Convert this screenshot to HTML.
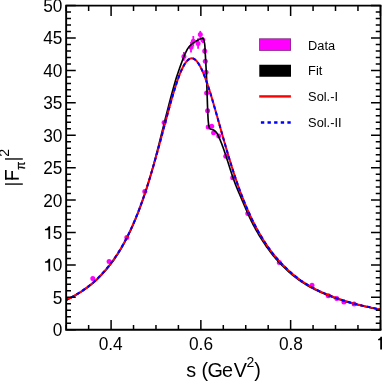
<!DOCTYPE html><html><head><meta charset="utf-8"><style>html,body{margin:0;padding:0;background:#fff;width:382px;height:382px;overflow:hidden}body{position:relative;font-family:"Liberation Sans",sans-serif}</style></head><body><svg width="382" height="382" viewBox="0 0 382 382" style="position:absolute;left:0;top:0;will-change:transform;opacity:0.9999">
<rect x="0" y="0" width="382" height="382" fill="#fff"/>
<g><circle cx="92.8" cy="278.5" r="2.5" fill="#ff00ff"/><circle cx="109.1" cy="261.4" r="2.5" fill="#ff00ff"/><circle cx="126.8" cy="237.4" r="2.5" fill="#ff00ff"/><circle cx="144.8" cy="191.6" r="2.5" fill="#ff00ff"/><circle cx="164.1" cy="122.5" r="2.5" fill="#ff00ff"/><line x1="183.9" y1="52.0" x2="183.9" y2="60.8" stroke="#ff00ff" stroke-width="1.8"/><circle cx="183.9" cy="56.4" r="2.5" fill="#ff00ff"/><line x1="191.0" y1="42.0" x2="191.0" y2="52.599999999999994" stroke="#ff00ff" stroke-width="1.8"/><circle cx="191.0" cy="47.3" r="2.5" fill="#ff00ff"/><line x1="193.3" y1="36.0" x2="193.3" y2="46.599999999999994" stroke="#ff00ff" stroke-width="1.8"/><circle cx="193.3" cy="41.3" r="2.5" fill="#ff00ff"/><line x1="198.1" y1="38.2" x2="198.1" y2="48.8" stroke="#ff00ff" stroke-width="1.8"/><circle cx="198.1" cy="43.5" r="2.5" fill="#ff00ff"/><line x1="200.3" y1="30.900000000000002" x2="200.3" y2="38.300000000000004" stroke="#ff00ff" stroke-width="1.8"/><circle cx="200.3" cy="34.6" r="2.5" fill="#ff00ff"/><line x1="202.9" y1="37.1" x2="202.9" y2="43.1" stroke="#ff00ff" stroke-width="1.8"/><circle cx="202.9" cy="40.1" r="2.5" fill="#ff00ff"/><line x1="204.7" y1="48" x2="204.7" y2="54" stroke="#ff00ff" stroke-width="1.8"/><circle cx="204.7" cy="51" r="2.5" fill="#ff00ff"/><line x1="205.3" y1="59.3" x2="205.3" y2="63.3" stroke="#ff00ff" stroke-width="1.8"/><circle cx="205.3" cy="61.3" r="2.5" fill="#ff00ff"/><line x1="206.1" y1="70.3" x2="206.1" y2="74.3" stroke="#ff00ff" stroke-width="1.8"/><circle cx="206.1" cy="72.3" r="2.5" fill="#ff00ff"/><line x1="206.6" y1="91.1" x2="206.6" y2="95.1" stroke="#ff00ff" stroke-width="1.8"/><circle cx="206.6" cy="93.1" r="2.5" fill="#ff00ff"/><line x1="207.6" y1="108.7" x2="207.6" y2="112.7" stroke="#ff00ff" stroke-width="1.8"/><circle cx="207.6" cy="110.7" r="2.5" fill="#ff00ff"/><line x1="208.2" y1="125.5" x2="208.2" y2="128.5" stroke="#ff00ff" stroke-width="1.8"/><circle cx="208.2" cy="127" r="2.5" fill="#ff00ff"/><line x1="211.7" y1="124.4" x2="211.7" y2="128.0" stroke="#ff00ff" stroke-width="1.8"/><circle cx="211.7" cy="126.2" r="2.5" fill="#ff00ff"/><line x1="213.6" y1="130.60000000000002" x2="213.6" y2="135.0" stroke="#ff00ff" stroke-width="1.8"/><circle cx="213.6" cy="132.8" r="2.5" fill="#ff00ff"/><line x1="218.7" y1="134.70000000000002" x2="218.7" y2="137.1" stroke="#ff00ff" stroke-width="1.8"/><circle cx="218.7" cy="135.9" r="2.5" fill="#ff00ff"/><circle cx="225.8" cy="156.2" r="2.5" fill="#ff00ff"/><circle cx="232.7" cy="177.7" r="2.5" fill="#ff00ff"/><circle cx="247.8" cy="213.5" r="2.5" fill="#ff00ff"/><circle cx="279.3" cy="262.4" r="2.5" fill="#ff00ff"/><circle cx="312" cy="285.2" r="2.5" fill="#ff00ff"/><circle cx="328.3" cy="295.8" r="2.5" fill="#ff00ff"/><circle cx="336.8" cy="298.6" r="2.5" fill="#ff00ff"/><circle cx="343.9" cy="302.0" r="2.5" fill="#ff00ff"/><circle cx="354.1" cy="303.9" r="2.5" fill="#ff00ff"/></g>
<path d="M66.30,300.14 L67.36,299.63 L68.41,299.11 L69.47,298.58 L70.52,298.04 L71.58,297.49 L72.63,296.92 L73.69,296.34 L74.74,295.75 L75.80,295.15 L76.85,294.53 L77.91,293.90 L78.97,293.25 L80.02,292.59 L81.08,291.92 L82.13,291.23 L83.19,290.52 L84.24,289.79 L85.30,289.05 L86.35,288.29 L87.41,287.52 L88.46,286.72 L89.52,285.91 L90.58,285.07 L91.63,284.22 L92.69,283.34 L93.74,282.44 L94.80,281.52 L95.85,280.58 L96.91,279.59 L97.96,278.56 L99.02,277.51 L100.07,276.43 L101.13,275.33 L102.19,274.20 L103.24,273.04 L104.30,271.86 L105.35,270.67 L106.41,269.45 L107.46,268.19 L108.52,266.91 L109.57,265.59 L110.63,264.23 L111.68,262.84 L112.74,261.41 L113.80,259.95 L114.85,258.44 L115.91,256.90 L116.96,255.31 L118.02,253.68 L119.07,252.00 L120.13,250.28 L121.18,248.52 L122.24,246.71 L123.29,244.84 L124.35,242.93 L125.41,240.96 L126.46,238.94 L127.52,236.87 L128.57,234.74 L129.63,232.56 L130.68,230.31 L131.74,228.00 L132.77,225.64 L133.14,224.80 L133.51,223.95 L133.87,223.10 L134.23,222.26 L134.59,221.41 L134.95,220.56 L135.30,219.71 L135.65,218.86 L136.00,218.01 L136.35,217.15 L136.69,216.30 L137.04,215.45 L137.37,214.59 L137.71,213.74 L138.05,212.88 L138.38,212.03 L138.71,211.17 L139.04,210.31 L139.36,209.46 L139.69,208.60 L140.01,207.74 L140.32,206.88 L140.64,206.03 L140.95,205.17 L141.26,204.31 L141.57,203.45 L141.87,202.60 L142.18,201.74 L142.48,200.88 L142.78,200.02 L143.08,199.16 L143.37,198.29 L143.67,197.43 L143.96,196.57 L144.25,195.71 L144.54,194.84 L144.83,193.98 L145.11,193.11 L145.40,192.25 L145.68,191.38 L145.96,190.52 L146.24,189.65 L146.51,188.78 L146.79,187.91 L147.06,187.04 L147.34,186.18 L147.61,185.31 L147.88,184.44 L148.14,183.57 L148.41,182.70 L148.68,181.82 L148.94,180.95 L149.20,180.08 L149.46,179.21 L149.72,178.33 L149.98,177.46 L150.23,176.59 L150.49,175.72 L150.74,174.85 L150.99,173.97 L151.24,173.10 L151.49,172.23 L151.74,171.35 L151.98,170.48 L152.23,169.61 L152.47,168.73 L152.71,167.86 L152.96,166.98 L153.20,166.11 L153.44,165.23 L153.68,164.35 L153.91,163.48 L154.15,162.60 L154.39,161.72 L154.62,160.84 L154.86,159.97 L155.09,159.09 L155.33,158.21 L155.56,157.33 L155.79,156.45 L156.02,155.57 L156.25,154.70 L156.48,153.82 L156.71,152.94 L156.94,152.06 L157.17,151.18 L157.39,150.30 L157.62,149.42 L157.85,148.54 L158.07,147.65 L158.30,146.77 L158.52,145.89 L158.75,145.01 L158.97,144.13 L159.19,143.25 L159.42,142.37 L159.64,141.49 L159.86,140.60 L160.08,139.72 L160.30,138.84 L160.52,137.96 L160.75,137.08 L160.97,136.19 L161.19,135.31 L161.41,134.43 L161.63,133.55 L161.85,132.67 L162.07,131.78 L162.28,130.90 L162.50,130.02 L162.72,129.14 L162.94,128.25 L163.16,127.37 L163.38,126.49 L163.60,125.61 L163.82,124.72 L164.04,123.84 L164.26,122.96 L164.49,122.08 L164.71,121.20 L164.93,120.31 L165.15,119.43 L165.37,118.55 L165.59,117.67 L165.81,116.79 L166.04,115.91 L166.26,115.03 L166.48,114.14 L166.71,113.26 L166.93,112.38 L167.16,111.50 L167.38,110.62 L167.61,109.74 L167.83,108.86 L168.06,107.98 L168.29,107.10 L168.52,106.22 L168.74,105.34 L168.97,104.46 L169.20,103.58 L169.43,102.70 L169.66,101.83 L169.89,100.95 L170.12,100.07 L170.35,99.19 L170.59,98.31 L170.82,97.44 L171.05,96.56 L171.29,95.68 L171.52,94.81 L171.76,93.93 L172.00,93.06 L172.24,92.18 L172.47,91.31 L172.72,90.43 L172.96,89.56 L173.20,88.68 L173.44,87.81 L173.69,86.94 L173.93,86.06 L174.18,85.19 L174.43,84.32 L174.68,83.45 L174.93,82.57 L175.18,81.70 L175.43,80.83 L175.69,79.96 L175.94,79.09 L176.20,78.22 L176.49,77.36 L176.77,76.49 L177.06,75.62 L177.35,74.75 L177.64,73.89 L177.93,73.02 L178.23,72.15 L178.52,71.29 L178.82,70.42 L179.12,69.56 L179.42,68.70 L179.72,67.83 L180.02,66.97 L180.33,66.11 L180.64,65.25 L180.95,64.39 L181.26,63.53 L181.58,62.67 L181.90,61.81 L182.22,60.95 L182.54,60.09 L182.87,59.23 L183.20,58.38 L183.54,57.52 L183.88,56.67 L184.23,55.82 L184.59,54.98 L184.96,54.13 L185.34,53.29 L185.73,52.46 L186.13,51.63 L186.53,50.80 L186.96,49.98 L187.41,49.18 L187.90,48.40 L188.42,47.64 L188.99,46.91 L189.60,46.21 L190.24,45.55 L190.90,44.91 L191.59,44.30 L192.30,43.72 L193.03,43.17 L193.77,42.64 L194.52,42.13 L195.28,41.65 L196.05,41.18 L196.83,40.74 L197.63,40.31 L198.44,39.89 L199.26,39.48 L200.10,39.08 L200.97,38.68 L201.84,38.34 L202.64,38.31 L203.25,38.77 L203.63,39.58 L203.92,40.49 L204.16,41.40 L204.36,42.31 L204.53,43.22 L204.67,44.13 L204.78,45.04 L204.87,45.94 L204.94,46.85 L205.00,47.75 L205.05,48.66 L205.10,49.56 L205.14,50.47 L205.19,51.37 L205.23,52.28 L205.28,53.18 L205.32,54.09 L205.37,55.00 L205.42,55.90 L205.47,56.81 L205.52,57.72 L205.57,58.63 L205.62,59.53 L205.67,60.44 L205.72,61.35 L205.77,62.26 L205.82,63.17 L205.87,64.08 L205.92,64.99 L205.97,65.90 L206.02,66.81 L206.07,67.71 L206.12,68.62 L206.16,69.53 L206.21,70.44 L206.26,71.35 L206.30,72.26 L206.35,73.17 L206.39,74.08 L206.43,74.99 L206.47,75.90 L206.51,76.81 L206.55,77.72 L206.58,78.63 L206.62,79.54 L206.66,80.45 L206.69,81.36 L206.72,82.27 L206.76,83.18 L206.79,84.09 L206.82,85.00 L206.85,85.91 L206.88,86.82 L206.91,87.73 L206.94,88.64 L206.97,89.55 L207.00,90.46 L207.03,91.36 L207.06,92.27 L207.09,93.18 L207.12,94.09 L207.15,95.00 L207.17,95.91 L207.20,96.82 L207.23,97.73 L207.26,98.64 L207.29,99.55 L207.32,100.45 L207.35,101.36 L207.38,102.27 L207.41,103.18 L207.44,104.09 L207.48,105.00 L207.51,105.91 L207.54,106.82 L207.58,107.72 L207.61,108.63 L207.65,109.54 L207.69,110.45 L207.72,111.36 L207.76,112.27 L207.80,113.17 L207.84,114.08 L207.89,114.99 L207.93,115.90 L207.98,116.81 L208.02,117.72 L208.08,118.62 L208.14,119.53 L208.20,120.44 L208.28,121.35 L208.37,122.26 L208.48,123.16 L208.60,124.07 L208.73,124.98 L208.89,125.89 L209.07,126.80 L209.29,127.69 L209.65,128.48 L210.30,129.01 L211.19,129.31 L212.14,129.50 L213.04,129.80 L213.87,130.21 L214.63,130.71 L215.31,131.28 L215.93,131.92 L216.49,132.60 L216.99,133.33 L217.46,134.10 L217.89,134.90 L218.29,135.71 L218.67,136.55 L219.04,137.38 L219.41,138.22 L219.77,139.07 L220.12,139.91 L220.47,140.76 L220.81,141.60 L221.15,142.45 L221.49,143.30 L221.82,144.15 L222.14,145.01 L222.46,145.86 L222.78,146.72 L223.09,147.57 L223.40,148.43 L223.70,149.29 L224.00,150.15 L224.30,151.01 L224.60,151.87 L224.89,152.73 L225.18,153.59 L225.47,154.46 L225.75,155.32 L226.04,156.18 L226.32,157.05 L226.60,157.91 L226.88,158.78 L227.16,159.64 L227.44,160.51 L227.71,161.38 L227.99,162.24 L228.27,163.11 L228.54,163.97 L228.82,164.84 L229.09,165.71 L229.37,166.57 L229.65,167.44 L229.93,168.30 L230.20,169.17 L230.48,170.03 L230.76,170.89 L231.04,171.76 L231.32,172.62 L231.60,173.48 L231.88,174.34 L232.17,175.20 L232.46,176.06 L232.75,176.92 L233.05,177.78 L233.35,178.63 L233.65,179.49 L233.96,180.34 L234.27,181.19 L234.58,182.05 L234.90,182.90 L235.22,183.74 L235.55,184.59 L235.88,185.44 L236.21,186.27 L236.55,187.10 L236.89,187.93 L237.23,188.76 L237.58,189.59 L237.92,190.42 L238.27,191.25 L238.62,192.07 L238.98,192.90 L239.33,193.73 L239.68,194.55 L240.04,195.38 L240.39,196.20 L240.75,197.03 L241.10,197.85 L241.46,198.67 L241.81,199.50 L242.16,200.32 L242.52,201.15 L242.87,201.97 L243.22,202.80 L243.57,203.62 L243.92,204.45 L244.27,205.27 L244.62,206.10 L244.98,206.92 L245.33,207.74 L245.68,208.57 L246.04,209.39 L246.40,210.21 L246.75,211.03 L247.11,211.85 L247.47,212.67 L247.83,213.49 L248.20,214.31 L248.56,215.12 L248.93,215.94 L249.30,216.75 L249.68,217.56 L250.06,218.37 L250.45,219.18 L250.84,219.99 L251.24,220.80 L251.63,221.60 L252.03,222.40 L252.44,223.20 L252.85,224.00 L253.26,224.80 L253.68,225.60 L254.10,226.39 L254.52,227.18 L254.95,227.97 L255.38,228.76 L255.81,229.54 L256.25,230.33 L256.69,231.11 L257.14,231.89 L257.59,232.67 L258.04,233.44 L258.50,234.21 L258.96,234.98 L259.42,235.75 L259.89,236.52 L260.36,237.28 L260.84,238.04 L261.32,238.80 L261.80,239.56 L262.29,240.33 L262.78,241.10 L263.27,241.87 L263.77,242.63 L264.27,243.39 L264.78,244.15 L265.29,244.90 L265.81,245.66 L266.32,246.41 L266.85,247.15 L267.37,247.90 L267.90,248.64 L268.44,249.37 L268.98,250.11 L269.52,250.84 L270.07,251.57 L270.62,252.29 L271.18,253.01 L271.74,253.73 L272.30,254.45 L272.87,255.16 L273.45,255.86 L274.03,256.57 L274.61,257.26 L275.20,257.96 L275.79,258.65 L276.39,259.34 L276.99,260.02 L277.60,260.70 L278.21,261.37 L278.83,262.04 L279.45,262.71 L280.08,263.37 L280.71,264.03 L281.35,264.68 L282.00,265.33 L282.64,265.97 L283.93,267.23 L285.22,268.44 L286.50,269.65 L287.79,270.85 L289.07,272.02 L290.36,273.15 L291.64,274.25 L292.93,275.33 L294.21,276.37 L295.50,277.39 L296.78,278.39 L298.07,279.35 L299.36,280.30 L300.64,281.19 L301.93,282.04 L303.21,282.86 L304.50,283.67 L305.78,284.46 L307.06,285.22 L308.35,285.97 L309.63,286.70 L310.92,287.41 L312.20,288.10 L313.49,288.77 L314.77,289.43 L316.06,290.07 L317.34,290.70 L318.63,291.31 L319.91,291.91 L321.20,292.49 L322.48,293.06 L323.77,293.61 L325.05,294.15 L326.34,294.68 L327.62,295.20 L328.91,295.70 L330.19,296.20 L331.48,296.68 L332.76,297.15 L334.05,297.61 L335.33,298.06 L336.62,298.51 L337.90,298.96 L339.18,299.40 L340.47,299.83 L341.75,300.26 L343.04,300.67 L344.32,301.07 L345.61,301.47 L346.89,301.86 L348.18,302.24 L349.46,302.61 L350.75,302.97 L352.03,303.32 L353.32,303.67 L354.60,304.00 L355.89,304.33 L357.17,304.65 L358.46,304.97 L359.74,305.28 L361.03,305.58 L362.31,305.88 L363.60,306.17 L364.88,306.46 L366.17,306.74 L367.45,307.02 L368.74,307.29 L370.02,307.56 L371.30,307.82 L372.59,308.08 L373.87,308.33 L375.16,308.58 L376.44,308.82 L377.73,309.06 L379.01,309.30 L380.30,309.53 L380.57,309.57" fill="none" stroke="#000" stroke-width="1.65" stroke-linejoin="round"/>
<path d="M66.30,299.90 L67.36,299.39 L68.41,298.87 L69.47,298.33 L70.52,297.78 L71.58,297.22 L72.63,296.65 L73.69,296.06 L74.74,295.47 L75.80,294.86 L76.85,294.23 L77.91,293.59 L78.97,292.94 L80.02,292.27 L81.08,291.59 L82.13,290.89 L83.19,290.17 L84.24,289.44 L85.30,288.69 L86.35,287.93 L87.41,287.14 L88.46,286.34 L89.52,285.52 L90.58,284.67 L91.63,283.81 L92.69,282.93 L93.74,282.02 L94.80,281.09 L95.85,280.14 L96.91,279.14 L97.96,278.10 L99.02,277.04 L100.07,275.96 L101.13,274.85 L102.19,273.71 L103.24,272.54 L104.30,271.35 L105.35,270.15 L106.41,268.92 L107.46,267.66 L108.52,266.36 L109.57,265.04 L110.63,263.67 L111.68,262.27 L112.74,260.84 L113.80,259.36 L114.85,257.85 L115.91,256.30 L116.96,254.70 L118.02,253.07 L119.07,251.39 L120.13,249.66 L121.18,247.89 L122.24,246.07 L123.29,244.21 L124.35,242.29 L125.41,240.32 L126.46,238.30 L127.52,236.23 L128.57,234.10 L129.63,231.92 L130.68,229.67 L131.74,227.37 L132.79,225.01 L133.85,222.59 L134.91,220.10 L135.96,217.56 L137.02,214.94 L138.07,212.27 L139.13,209.52 L140.18,206.71 L141.24,203.85 L142.29,200.92 L143.35,197.92 L144.40,194.85 L145.46,191.72 L146.52,188.51 L147.57,185.24 L148.63,181.90 L149.68,178.49 L150.74,175.03 L151.79,171.51 L152.85,167.93 L153.90,164.29 L154.96,160.59 L156.01,156.84 L157.07,153.05 L158.13,149.21 L159.18,145.33 L160.24,141.42 L161.29,137.49 L162.35,133.53 L163.40,129.56 L164.46,125.59 L165.51,121.63 L166.57,117.68 L167.62,113.75 L168.68,109.86 L169.74,106.02 L170.79,102.23 L171.85,98.52 L172.90,94.89 L173.96,91.36 L175.01,87.93 L176.07,84.64 L177.12,81.48 L178.18,78.47 L179.23,75.62 L180.29,72.96 L181.35,70.48 L182.40,68.21 L183.46,66.14 L184.51,64.31 L185.57,62.70 L186.62,61.34 L187.68,60.22 L188.73,59.36 L189.79,58.75 L190.84,58.41 L191.90,58.33 L191.99,58.33 L192.08,58.34 L192.17,58.35 L192.26,58.36 L192.35,58.37 L192.44,58.38 L192.53,58.40 L192.62,58.42 L192.71,58.44 L192.80,58.46 L192.89,58.48 L192.98,58.51 L193.07,58.54 L193.16,58.57 L193.25,58.60 L193.34,58.63 L193.43,58.67 L193.52,58.70 L193.61,58.74 L193.70,58.78 L193.79,58.83 L193.88,58.87 L193.97,58.92 L194.06,58.97 L194.15,59.02 L194.24,59.07 L194.33,59.12 L194.42,59.18 L194.51,59.23 L194.60,59.29 L194.69,59.35 L194.78,59.42 L194.87,59.48 L194.96,59.55 L195.05,59.62 L195.14,59.69 L195.23,59.76 L195.32,59.83 L195.41,59.91 L195.50,59.99 L195.59,60.07 L195.68,60.15 L195.77,60.23 L195.86,60.32 L195.95,60.40 L196.04,60.49 L196.13,60.58 L196.22,60.67 L196.31,60.77 L196.40,60.86 L196.49,60.96 L196.58,61.06 L196.67,61.16 L196.76,61.26 L196.85,61.37 L196.94,61.47 L197.03,61.58 L197.12,61.69 L197.21,61.80 L197.30,61.91 L197.39,62.03 L197.48,62.14 L197.57,62.26 L197.66,62.38 L197.75,62.50 L197.84,62.63 L197.93,62.75 L198.02,62.88 L198.11,63.01 L198.20,63.14 L198.29,63.27 L198.38,63.40 L198.47,63.54 L198.56,63.67 L198.65,63.81 L198.74,63.95 L198.83,64.09 L198.92,64.23 L199.01,64.38 L199.10,64.52 L199.19,64.67 L199.28,64.82 L199.36,64.97 L199.45,65.13 L199.54,65.28 L199.63,65.44 L199.72,65.59 L199.81,65.75 L199.90,65.91 L199.99,66.07 L200.08,66.24 L200.17,66.40 L200.26,66.57 L200.35,66.74 L200.44,66.91 L200.53,67.08 L200.62,67.25 L200.71,67.43 L200.80,67.60 L200.89,67.78 L200.98,67.96 L201.07,68.14 L201.16,68.32 L201.25,68.50 L201.34,68.69 L201.43,68.87 L201.52,69.06 L201.61,69.25 L201.70,69.44 L201.79,69.63 L201.88,69.82 L201.97,70.02 L202.06,70.21 L202.15,70.41 L202.24,70.61 L202.33,70.81 L202.42,71.01 L202.51,71.21 L202.60,71.42 L202.69,71.62 L202.78,71.83 L202.87,72.04 L202.96,72.25 L203.05,72.46 L203.14,72.67 L203.23,72.88 L203.32,73.10 L203.41,73.31 L203.50,73.53 L203.59,73.75 L203.68,73.97 L203.77,74.19 L203.86,74.41 L203.95,74.63 L204.04,74.86 L204.13,75.09 L204.22,75.31 L204.31,75.54 L204.40,75.77 L204.49,76.00 L204.58,76.23 L204.67,76.46 L204.76,76.70 L204.85,76.93 L204.94,77.17 L205.03,77.41 L205.12,77.65 L205.21,77.88 L205.30,78.13 L205.39,78.37 L205.48,78.61 L205.57,78.85 L205.66,79.10 L205.75,79.35 L205.84,79.59 L205.93,79.84 L206.02,80.09 L206.11,80.34 L206.20,80.59 L206.29,80.84 L206.38,81.10 L206.47,81.35 L206.56,81.61 L206.65,81.86 L206.74,82.12 L206.83,82.38 L206.92,82.64 L207.01,82.90 L207.10,83.16 L207.19,83.42 L207.28,83.69 L207.37,83.95 L207.46,84.21 L207.55,84.48 L207.64,84.75 L207.73,85.01 L207.82,85.28 L207.91,85.55 L208.00,85.82 L208.09,86.09 L208.18,86.36 L208.27,86.64 L208.36,86.91 L208.45,87.19 L208.54,87.46 L208.63,87.74 L208.72,88.01 L208.81,88.29 L208.90,88.57 L208.99,88.85 L209.08,89.13 L209.17,89.41 L209.26,89.69 L209.35,89.97 L209.44,90.26 L209.53,90.54 L209.62,90.82 L209.71,91.11 L209.80,91.39 L209.89,91.68 L209.98,91.97 L210.07,92.26 L210.16,92.54 L210.25,92.83 L210.34,93.12 L210.43,93.41 L210.52,93.70 L210.61,94.00 L210.70,94.29 L210.79,94.58 L210.88,94.87 L210.97,95.17 L211.06,95.46 L211.15,95.76 L211.24,96.06 L211.33,96.35 L211.42,96.65 L211.51,96.95 L211.60,97.24 L211.69,97.54 L211.78,97.84 L211.87,98.14 L211.96,98.44 L212.05,98.74 L212.14,99.04 L212.23,99.35 L212.32,99.65 L212.41,99.95 L212.50,100.25 L212.59,100.56 L212.68,100.86 L212.77,101.17 L212.86,101.47 L212.95,101.78 L213.04,102.08 L213.13,102.39 L213.22,102.70 L213.31,103.00 L213.40,103.31 L213.49,103.62 L213.58,103.93 L213.67,104.24 L213.76,104.55 L213.85,104.85 L213.94,105.16 L214.03,105.47 L214.11,105.79 L214.20,106.10 L214.29,106.41 L214.38,106.72 L214.47,107.03 L214.56,107.34 L214.65,107.66 L214.74,107.97 L214.83,108.28 L214.92,108.59 L215.01,108.91 L215.10,109.22 L215.19,109.54 L215.28,109.85 L215.37,110.17 L215.46,110.48 L215.55,110.80 L215.64,111.11 L215.73,111.43 L215.82,111.74 L215.91,112.06 L216.00,112.37 L216.09,112.69 L216.18,113.01 L216.27,113.32 L216.36,113.64 L216.45,113.96 L216.54,114.28 L216.63,114.59 L216.72,114.91 L216.81,115.23 L216.90,115.55 L216.99,115.87 L217.08,116.18 L217.17,116.50 L217.26,116.82 L217.35,117.14 L217.44,117.46 L217.53,117.78 L217.62,118.10 L217.71,118.42 L217.80,118.74 L217.89,119.05 L217.98,119.37 L218.07,119.69 L218.16,120.01 L218.25,120.33 L218.34,120.65 L218.43,120.97 L218.52,121.29 L218.61,121.61 L218.70,121.93 L218.79,122.25 L218.88,122.57 L218.97,122.89 L219.06,123.21 L219.15,123.53 L219.24,123.85 L219.33,124.17 L219.42,124.49 L219.51,124.81 L219.60,125.13 L219.69,125.45 L219.78,125.77 L219.87,126.09 L219.96,126.41 L220.05,126.73 L220.14,127.05 L220.23,127.37 L220.32,127.69 L220.41,128.01 L220.50,128.33 L220.59,128.65 L220.68,128.97 L220.77,129.29 L220.86,129.61 L220.95,129.93 L221.04,130.25 L221.13,130.57 L221.22,130.88 L221.31,131.20 L221.40,131.52 L221.49,131.84 L221.58,132.16 L221.67,132.48 L221.76,132.80 L221.85,133.11 L221.94,133.43 L222.03,133.75 L222.12,134.07 L222.21,134.39 L222.30,134.70 L222.39,135.02 L222.48,135.34 L222.57,135.65 L222.66,135.97 L222.75,136.29 L222.84,136.61 L222.93,136.92 L223.02,137.24 L223.11,137.55 L223.20,137.87 L223.29,138.19 L223.38,138.50 L223.47,138.82 L223.56,139.13 L223.65,139.45 L223.74,139.76 L223.83,140.08 L223.92,140.39 L224.01,140.70 L224.10,141.02 L224.19,141.33 L224.28,141.65 L224.37,141.96 L224.46,142.27 L224.55,142.58 L224.64,142.90 L224.73,143.21 L224.82,143.52 L224.91,143.83 L225.00,144.14 L225.09,144.46 L225.18,144.77 L225.27,145.08 L225.36,145.39 L225.45,145.70 L225.54,146.01 L225.63,146.32 L225.72,146.63 L225.81,146.94 L225.90,147.25 L225.99,147.55 L226.08,147.86 L226.17,148.17 L226.26,148.48 L226.35,148.79 L226.44,149.09 L226.53,149.40 L226.62,149.71 L226.71,150.01 L226.80,150.32 L226.89,150.62 L226.98,150.93 L227.07,151.24 L227.16,151.54 L227.25,151.84 L227.34,152.15 L227.43,152.45 L227.52,152.76 L227.61,153.06 L227.70,153.36 L227.79,153.66 L229.07,157.94 L230.35,162.14 L231.63,166.26 L232.91,170.31 L234.19,174.26 L235.48,178.13 L236.76,181.89 L238.04,185.53 L239.32,189.09 L240.60,192.55 L241.88,195.92 L243.17,199.20 L244.45,202.39 L245.73,205.49 L247.01,208.50 L248.29,211.42 L249.57,214.26 L250.86,217.01 L252.14,219.69 L253.42,222.28 L254.70,224.79 L255.98,227.23 L257.26,229.59 L258.54,231.88 L259.83,234.11 L261.11,236.26 L262.39,238.36 L263.67,240.43 L264.95,242.43 L266.23,244.38 L267.52,246.26 L268.80,248.09 L270.08,249.87 L271.36,251.59 L272.64,253.26 L273.92,254.88 L275.21,256.45 L276.49,257.98 L277.77,259.46 L279.05,260.90 L280.33,262.30 L281.61,263.66 L282.90,264.97 L284.18,266.25 L285.46,267.50 L286.74,268.73 L288.02,269.95 L289.30,271.14 L290.59,272.30 L291.87,273.42 L293.15,274.52 L294.43,275.58 L295.71,276.62 L296.99,277.63 L298.28,278.62 L299.56,279.58 L300.84,280.49 L302.12,281.35 L303.40,282.20 L304.68,283.02 L305.97,283.82 L307.25,284.60 L308.53,285.36 L309.81,286.11 L311.09,286.83 L312.37,287.53 L313.66,288.22 L314.94,288.89 L316.22,289.54 L317.50,290.18 L318.78,290.80 L320.06,291.41 L321.34,292.00 L322.63,292.58 L323.91,293.15 L325.19,293.70 L326.47,294.24 L327.75,294.76 L329.03,295.28 L330.32,295.78 L331.60,296.27 L332.88,296.75 L334.16,297.22 L335.44,297.68 L336.72,298.14 L338.01,298.60 L339.29,299.04 L340.57,299.48 L341.85,299.91 L343.13,300.33 L344.41,300.74 L345.70,301.15 L346.98,301.54 L348.26,301.93 L349.54,302.31 L350.82,302.68 L352.10,303.03 L353.39,303.38 L354.67,303.72 L355.95,304.06 L357.23,304.38 L358.51,304.71 L359.79,305.02 L361.08,305.33 L362.36,305.63 L363.64,305.93 L364.92,306.22 L366.20,306.51 L367.48,306.79 L368.77,307.07 L370.05,307.34 L371.33,307.61 L372.61,307.87 L373.89,308.13 L375.17,308.38 L376.46,308.63 L377.74,308.87 L379.02,309.11 L380.30,309.34 L380.57,309.39" fill="none" stroke="#ff0000" stroke-width="2.0" stroke-linejoin="round"/>
<path d="M66.30,299.90 L67.36,299.39 L68.41,298.87 L69.47,298.33 L70.52,297.78 L71.58,297.22 L72.63,296.65 L73.69,296.06 L74.74,295.47 L75.80,294.86 L76.85,294.23 L77.91,293.59 L78.97,292.94 L80.02,292.27 L81.08,291.59 L82.13,290.89 L83.19,290.17 L84.24,289.44 L85.30,288.69 L86.35,287.93 L87.41,287.14 L88.46,286.34 L89.52,285.52 L90.58,284.67 L91.63,283.81 L92.69,282.93 L93.74,282.02 L94.80,281.09 L95.85,280.14 L96.91,279.14 L97.96,278.10 L99.02,277.04 L100.07,275.96 L101.13,274.85 L102.19,273.71 L103.24,272.54 L104.30,271.35 L105.35,270.15 L106.41,268.92 L107.46,267.66 L108.52,266.36 L109.57,265.04 L110.63,263.67 L111.68,262.27 L112.74,260.84 L113.80,259.36 L114.85,257.85 L115.91,256.30 L116.96,254.70 L118.02,253.07 L119.07,251.39 L120.13,249.66 L121.18,247.89 L122.24,246.07 L123.29,244.21 L124.35,242.29 L125.41,240.32 L126.46,238.30 L127.52,236.23 L128.57,234.10 L129.63,231.92 L130.68,229.67 L131.74,227.37 L132.79,225.01 L133.85,222.59 L134.91,220.10 L135.96,217.56 L137.02,214.94 L138.07,212.27 L139.13,209.52 L140.18,206.71 L141.24,203.85 L142.29,200.92 L143.35,197.92 L144.40,194.85 L145.46,191.72 L146.52,188.51 L147.57,185.24 L148.63,181.90 L149.68,178.49 L150.74,175.03 L151.79,171.51 L152.85,167.93 L153.90,164.29 L154.96,160.59 L156.01,156.84 L157.07,153.05 L158.13,149.21 L159.18,145.33 L160.24,141.42 L161.29,137.49 L162.35,133.53 L163.40,129.56 L164.46,125.59 L165.51,121.63 L166.57,117.68 L167.62,113.75 L168.68,109.86 L169.74,106.02 L170.79,102.23 L171.85,98.52 L172.90,94.89 L173.96,91.36 L175.01,87.93 L176.07,84.64 L177.12,81.48 L178.18,78.47 L179.23,75.62 L180.29,72.96 L181.35,70.48 L182.40,68.21 L183.46,66.14 L184.51,64.31 L185.57,62.70 L186.62,61.34 L187.68,60.22 L188.73,59.36 L189.79,58.75 L190.84,58.41 L191.90,58.33 L191.99,58.33 L192.08,58.34 L192.17,58.35 L192.26,58.36 L192.35,58.37 L192.44,58.38 L192.53,58.40 L192.62,58.42 L192.71,58.44 L192.80,58.46 L192.89,58.48 L192.98,58.51 L193.07,58.54 L193.16,58.57 L193.25,58.60 L193.34,58.63 L193.43,58.67 L193.52,58.70 L193.61,58.74 L193.70,58.78 L193.79,58.83 L193.88,58.87 L193.97,58.92 L194.06,58.97 L194.15,59.02 L194.24,59.07 L194.33,59.12 L194.42,59.18 L194.51,59.23 L194.60,59.29 L194.69,59.35 L194.78,59.42 L194.87,59.48 L194.96,59.55 L195.05,59.62 L195.14,59.69 L195.23,59.76 L195.32,59.83 L195.41,59.91 L195.50,59.99 L195.59,60.07 L195.68,60.15 L195.77,60.23 L195.86,60.32 L195.95,60.40 L196.04,60.49 L196.13,60.58 L196.22,60.67 L196.31,60.77 L196.40,60.86 L196.49,60.96 L196.58,61.06 L196.67,61.16 L196.76,61.26 L196.85,61.37 L196.94,61.47 L197.03,61.58 L197.12,61.69 L197.21,61.80 L197.30,61.91 L197.39,62.03 L197.48,62.14 L197.57,62.26 L197.66,62.38 L197.75,62.50 L197.84,62.63 L197.93,62.75 L198.02,62.88 L198.11,63.01 L198.20,63.14 L198.29,63.27 L198.38,63.40 L198.47,63.54 L198.56,63.67 L198.65,63.81 L198.74,63.95 L198.83,64.09 L198.92,64.23 L199.01,64.38 L199.10,64.52 L199.19,64.67 L199.28,64.82 L199.36,64.97 L199.45,65.13 L199.54,65.28 L199.63,65.44 L199.72,65.59 L199.81,65.75 L199.90,65.91 L199.99,66.07 L200.08,66.24 L200.17,66.40 L200.26,66.57 L200.35,66.74 L200.44,66.91 L200.53,67.08 L200.62,67.25 L200.71,67.43 L200.80,67.60 L200.89,67.78 L200.98,67.96 L201.07,68.14 L201.16,68.32 L201.25,68.50 L201.34,68.69 L201.43,68.87 L201.52,69.06 L201.61,69.25 L201.70,69.44 L201.79,69.63 L201.88,69.82 L201.97,70.02 L202.06,70.21 L202.15,70.41 L202.24,70.61 L202.33,70.81 L202.42,71.01 L202.51,71.21 L202.60,71.42 L202.69,71.62 L202.78,71.83 L202.87,72.04 L202.96,72.25 L203.05,72.46 L203.14,72.67 L203.23,72.88 L203.32,73.10 L203.41,73.31 L203.50,73.53 L203.59,73.75 L203.68,73.97 L203.77,74.19 L203.86,74.41 L203.95,74.63 L204.04,74.86 L204.13,75.09 L204.22,75.31 L204.31,75.54 L204.40,75.77 L204.49,76.00 L204.58,76.23 L204.67,76.46 L204.76,76.70 L204.85,76.93 L204.94,77.17 L205.03,77.41 L205.12,77.65 L205.21,77.88 L205.30,78.13 L205.39,78.37 L205.48,78.61 L205.57,78.85 L205.66,79.10 L205.75,79.35 L205.84,79.59 L205.93,79.84 L206.02,80.09 L206.11,80.34 L206.20,80.59 L206.29,80.84 L206.38,81.10 L206.47,81.35 L206.56,81.61 L206.65,81.86 L206.74,82.12 L206.83,82.38 L206.92,82.64 L207.01,82.90 L207.10,83.16 L207.19,83.42 L207.28,83.69 L207.37,83.95 L207.46,84.21 L207.55,84.48 L207.64,84.75 L207.73,85.01 L207.82,85.28 L207.91,85.55 L208.00,85.82 L208.09,86.09 L208.18,86.36 L208.27,86.64 L208.36,86.91 L208.45,87.19 L208.54,87.46 L208.63,87.74 L208.72,88.01 L208.81,88.29 L208.90,88.57 L208.99,88.85 L209.08,89.13 L209.17,89.41 L209.26,89.69 L209.35,89.97 L209.44,90.26 L209.53,90.54 L209.62,90.82 L209.71,91.11 L209.80,91.39 L209.89,91.68 L209.98,91.97 L210.07,92.26 L210.16,92.54 L210.25,92.83 L210.34,93.12 L210.43,93.41 L210.52,93.70 L210.61,94.00 L210.70,94.29 L210.79,94.58 L210.88,94.87 L210.97,95.17 L211.06,95.46 L211.15,95.76 L211.24,96.06 L211.33,96.35 L211.42,96.65 L211.51,96.95 L211.60,97.24 L211.69,97.54 L211.78,97.84 L211.87,98.14 L211.96,98.44 L212.05,98.74 L212.14,99.04 L212.23,99.35 L212.32,99.65 L212.41,99.95 L212.50,100.25 L212.59,100.56 L212.68,100.86 L212.77,101.17 L212.86,101.47 L212.95,101.78 L213.04,102.08 L213.13,102.39 L213.22,102.70 L213.31,103.00 L213.40,103.31 L213.49,103.62 L213.58,103.93 L213.67,104.24 L213.76,104.55 L213.85,104.85 L213.94,105.16 L214.03,105.47 L214.11,105.79 L214.20,106.10 L214.29,106.41 L214.38,106.72 L214.47,107.03 L214.56,107.34 L214.65,107.66 L214.74,107.97 L214.83,108.28 L214.92,108.59 L215.01,108.91 L215.10,109.22 L215.19,109.54 L215.28,109.85 L215.37,110.17 L215.46,110.48 L215.55,110.80 L215.64,111.11 L215.73,111.43 L215.82,111.74 L215.91,112.06 L216.00,112.37 L216.09,112.69 L216.18,113.01 L216.27,113.32 L216.36,113.64 L216.45,113.96 L216.54,114.28 L216.63,114.59 L216.72,114.91 L216.81,115.23 L216.90,115.55 L216.99,115.87 L217.08,116.18 L217.17,116.50 L217.26,116.82 L217.35,117.14 L217.44,117.46 L217.53,117.78 L217.62,118.10 L217.71,118.42 L217.80,118.74 L217.89,119.05 L217.98,119.37 L218.07,119.69 L218.16,120.01 L218.25,120.33 L218.34,120.65 L218.43,120.97 L218.52,121.29 L218.61,121.61 L218.70,121.93 L218.79,122.25 L218.88,122.57 L218.97,122.89 L219.06,123.21 L219.15,123.53 L219.24,123.85 L219.33,124.17 L219.42,124.49 L219.51,124.81 L219.60,125.13 L219.69,125.45 L219.78,125.77 L219.87,126.09 L219.96,126.41 L220.05,126.73 L220.14,127.05 L220.23,127.37 L220.32,127.69 L220.41,128.01 L220.50,128.33 L220.59,128.65 L220.68,128.97 L220.77,129.29 L220.86,129.61 L220.95,129.93 L221.04,130.25 L221.13,130.57 L221.22,130.88 L221.31,131.20 L221.40,131.52 L221.49,131.84 L221.58,132.16 L221.67,132.48 L221.76,132.80 L221.85,133.11 L221.94,133.43 L222.03,133.75 L222.12,134.07 L222.21,134.39 L222.30,134.70 L222.39,135.02 L222.48,135.34 L222.57,135.65 L222.66,135.97 L222.75,136.29 L222.84,136.61 L222.93,136.92 L223.02,137.24 L223.11,137.55 L223.20,137.87 L223.29,138.19 L223.38,138.50 L223.47,138.82 L223.56,139.13 L223.65,139.45 L223.74,139.76 L223.83,140.08 L223.92,140.39 L224.01,140.70 L224.10,141.02 L224.19,141.33 L224.28,141.65 L224.37,141.96 L224.46,142.27 L224.55,142.58 L224.64,142.90 L224.73,143.21 L224.82,143.52 L224.91,143.83 L225.00,144.14 L225.09,144.46 L225.18,144.77 L225.27,145.08 L225.36,145.39 L225.45,145.70 L225.54,146.01 L225.63,146.32 L225.72,146.63 L225.81,146.94 L225.90,147.25 L225.99,147.55 L226.08,147.86 L226.17,148.17 L226.26,148.48 L226.35,148.79 L226.44,149.09 L226.53,149.40 L226.62,149.71 L226.71,150.01 L226.80,150.32 L226.89,150.62 L226.98,150.93 L227.07,151.24 L227.16,151.54 L227.25,151.84 L227.34,152.15 L227.43,152.45 L227.52,152.76 L227.61,153.06 L227.70,153.36 L227.79,153.66 L229.07,157.94 L230.35,162.14 L231.63,166.26 L232.91,170.31 L234.19,174.26 L235.48,178.13 L236.76,181.89 L238.04,185.53 L239.32,189.09 L240.60,192.55 L241.88,195.92 L243.17,199.20 L244.45,202.39 L245.73,205.49 L247.01,208.50 L248.29,211.42 L249.57,214.26 L250.86,217.01 L252.14,219.69 L253.42,222.28 L254.70,224.79 L255.98,227.23 L257.26,229.59 L258.54,231.88 L259.83,234.11 L261.11,236.26 L262.39,238.36 L263.67,240.43 L264.95,242.43 L266.23,244.38 L267.52,246.26 L268.80,248.09 L270.08,249.87 L271.36,251.59 L272.64,253.26 L273.92,254.88 L275.21,256.45 L276.49,257.98 L277.77,259.46 L279.05,260.90 L280.33,262.30 L281.61,263.66 L282.90,264.97 L284.18,266.25 L285.46,267.50 L286.74,268.73 L288.02,269.95 L289.30,271.14 L290.59,272.30 L291.87,273.42 L293.15,274.52 L294.43,275.58 L295.71,276.62 L296.99,277.63 L298.28,278.62 L299.56,279.58 L300.84,280.49 L302.12,281.35 L303.40,282.20 L304.68,283.02 L305.97,283.82 L307.25,284.60 L308.53,285.36 L309.81,286.11 L311.09,286.83 L312.37,287.53 L313.66,288.22 L314.94,288.89 L316.22,289.54 L317.50,290.18 L318.78,290.80 L320.06,291.41 L321.34,292.00 L322.63,292.58 L323.91,293.15 L325.19,293.70 L326.47,294.24 L327.75,294.76 L329.03,295.28 L330.32,295.78 L331.60,296.27 L332.88,296.75 L334.16,297.22 L335.44,297.68 L336.72,298.14 L338.01,298.60 L339.29,299.04 L340.57,299.48 L341.85,299.91 L343.13,300.33 L344.41,300.74 L345.70,301.15 L346.98,301.54 L348.26,301.93 L349.54,302.31 L350.82,302.68 L352.10,303.03 L353.39,303.38 L354.67,303.72 L355.95,304.06 L357.23,304.38 L358.51,304.71 L359.79,305.02 L361.08,305.33 L362.36,305.63 L363.64,305.93 L364.92,306.22 L366.20,306.51 L367.48,306.79 L368.77,307.07 L370.05,307.34 L371.33,307.61 L372.61,307.87 L373.89,308.13 L375.17,308.38 L376.46,308.63 L377.74,308.87 L379.02,309.11 L380.30,309.34 L380.57,309.39" fill="none" stroke="#0000ff" stroke-width="2.0" stroke-dasharray="3.6 3.0" stroke-dashoffset="1.5" stroke-linejoin="round"/>
<path d="M66.15,329.70h9.6M380.6,329.70h-9.6M66.15,323.22h4.85M380.6,323.22h-4.85M66.15,316.74h4.85M380.6,316.74h-4.85M66.15,310.25h4.85M380.6,310.25h-4.85M66.15,303.77h4.85M380.6,303.77h-4.85M66.15,297.29h9.6M380.6,297.29h-9.6M66.15,290.81h4.85M380.6,290.81h-4.85M66.15,284.33h4.85M380.6,284.33h-4.85M66.15,277.84h4.85M380.6,277.84h-4.85M66.15,271.36h4.85M380.6,271.36h-4.85M66.15,264.88h9.6M380.6,264.88h-9.6M66.15,258.40h4.85M380.6,258.40h-4.85M66.15,251.92h4.85M380.6,251.92h-4.85M66.15,245.43h4.85M380.6,245.43h-4.85M66.15,238.95h4.85M380.6,238.95h-4.85M66.15,232.47h9.6M380.6,232.47h-9.6M66.15,225.99h4.85M380.6,225.99h-4.85M66.15,219.51h4.85M380.6,219.51h-4.85M66.15,213.02h4.85M380.6,213.02h-4.85M66.15,206.54h4.85M380.6,206.54h-4.85M66.15,200.06h9.6M380.6,200.06h-9.6M66.15,193.58h4.85M380.6,193.58h-4.85M66.15,187.10h4.85M380.6,187.10h-4.85M66.15,180.61h4.85M380.6,180.61h-4.85M66.15,174.13h4.85M380.6,174.13h-4.85M66.15,167.65h9.6M380.6,167.65h-9.6M66.15,161.17h4.85M380.6,161.17h-4.85M66.15,154.69h4.85M380.6,154.69h-4.85M66.15,148.20h4.85M380.6,148.20h-4.85M66.15,141.72h4.85M380.6,141.72h-4.85M66.15,135.24h9.6M380.6,135.24h-9.6M66.15,128.76h4.85M380.6,128.76h-4.85M66.15,122.28h4.85M380.6,122.28h-4.85M66.15,115.79h4.85M380.6,115.79h-4.85M66.15,109.31h4.85M380.6,109.31h-4.85M66.15,102.83h9.6M380.6,102.83h-9.6M66.15,96.35h4.85M380.6,96.35h-4.85M66.15,89.87h4.85M380.6,89.87h-4.85M66.15,83.38h4.85M380.6,83.38h-4.85M66.15,76.90h4.85M380.6,76.90h-4.85M66.15,70.42h9.6M380.6,70.42h-9.6M66.15,63.94h4.85M380.6,63.94h-4.85M66.15,57.46h4.85M380.6,57.46h-4.85M66.15,50.97h4.85M380.6,50.97h-4.85M66.15,44.49h4.85M380.6,44.49h-4.85M66.15,38.01h9.6M380.6,38.01h-9.6M66.15,31.53h4.85M380.6,31.53h-4.85M66.15,25.05h4.85M380.6,25.05h-4.85M66.15,18.56h4.85M380.6,18.56h-4.85M66.15,12.08h4.85M380.6,12.08h-4.85M66.15,5.60h9.6M380.6,5.60h-9.6M66.20,329.7v-4.7M66.20,5.6v5.3M88.64,329.7v-4.7M88.64,5.6v5.3M111.09,329.7v-9.7M111.09,5.6v10.3M133.53,329.7v-4.7M133.53,5.6v5.3M155.97,329.7v-4.7M155.97,5.6v5.3M178.41,329.7v-4.7M178.41,5.6v5.3M200.86,329.7v-9.7M200.86,5.6v10.3M223.30,329.7v-4.7M223.30,5.6v5.3M245.74,329.7v-4.7M245.74,5.6v5.3M268.19,329.7v-4.7M268.19,5.6v5.3M290.63,329.7v-9.7M290.63,5.6v10.3M313.07,329.7v-4.7M313.07,5.6v5.3M335.51,329.7v-4.7M335.51,5.6v5.3M357.96,329.7v-4.7M357.96,5.6v5.3M380.40,329.7v-9.7M380.40,5.6v10.3" stroke="#000" stroke-width="1.5" fill="none"/>
<path d="M65.2,5.6H381.45000000000005M65.2,329.7H381.45000000000005M66.15,5.6V329.7" stroke="#000" stroke-width="1.9" fill="none"/>
<path d="M380.6,5.6V329.7" stroke="#000" stroke-width="1.7" fill="none"/>
<rect x="259.45" y="38.8" width="31.3" height="11.75" fill="#ff00ff" stroke="#400040" stroke-width="0.5"/>
<rect x="259.3" y="64.75" width="31.7" height="12" fill="#000"/>
<line x1="259.2" y1="96.4" x2="290.9" y2="96.4" stroke="#ff0000" stroke-width="2.4"/>
<line x1="260.9" y1="122.5" x2="291" y2="122.5" stroke="#0000ff" stroke-width="2.4" stroke-dasharray="3.35 3.27"/>
<g fill="#000"><text transform="translate(308.1,49.7) scale(1,1.07)" font-size="12.8" font-family="Liberation Sans, sans-serif">Data</text><text transform="translate(308.1,74.9) scale(1,1.07)" font-size="12.8" font-family="Liberation Sans, sans-serif">Fit</text><text transform="translate(308.1,101.4) scale(1,1.07)" font-size="12.8" font-family="Liberation Sans, sans-serif">Sol.-I</text><text transform="translate(308.1,127.1) scale(1,1.07)" font-size="12.8" font-family="Liberation Sans, sans-serif">Sol.-II</text><text transform="translate(62.4,336.15) scale(1,1.035)" text-anchor="end" font-size="17.3" font-family="Liberation Sans, sans-serif">0</text><text transform="translate(62.4,303.74) scale(1,1.035)" text-anchor="end" font-size="17.3" font-family="Liberation Sans, sans-serif">5</text><path d="M48.4,271.33 L48.4,262.63 L44.949999999999996,262.63 L44.949999999999996,261.38 C46.85,261.18 48.05,260.43 48.699999999999996,258.73 L50.15,258.73 L50.15,271.33 Z"/><text transform="translate(62.4,271.33) scale(1,1.035)" text-anchor="end" font-size="17.3" font-family="Liberation Sans, sans-serif">0</text><path d="M48.4,238.92 L48.4,230.22 L44.949999999999996,230.22 L44.949999999999996,228.97 C46.85,228.77 48.05,228.02 48.699999999999996,226.32 L50.15,226.32 L50.15,238.92 Z"/><text transform="translate(62.4,238.92) scale(1,1.035)" text-anchor="end" font-size="17.3" font-family="Liberation Sans, sans-serif">5</text><text transform="translate(62.4,206.51) scale(1,1.035)" text-anchor="end" font-size="17.3" font-family="Liberation Sans, sans-serif">20</text><text transform="translate(62.4,174.10) scale(1,1.035)" text-anchor="end" font-size="17.3" font-family="Liberation Sans, sans-serif">25</text><text transform="translate(62.4,141.69) scale(1,1.035)" text-anchor="end" font-size="17.3" font-family="Liberation Sans, sans-serif">30</text><text transform="translate(62.4,109.28) scale(1,1.035)" text-anchor="end" font-size="17.3" font-family="Liberation Sans, sans-serif">35</text><text transform="translate(62.4,76.87) scale(1,1.035)" text-anchor="end" font-size="17.3" font-family="Liberation Sans, sans-serif">40</text><text transform="translate(62.4,44.46) scale(1,1.035)" text-anchor="end" font-size="17.3" font-family="Liberation Sans, sans-serif">45</text><text transform="translate(62.4,12.05) scale(1,1.035)" text-anchor="end" font-size="17.3" font-family="Liberation Sans, sans-serif">50</text><text transform="translate(110.69,349.5) scale(1,1.035)" text-anchor="middle" font-size="17.3" font-family="Liberation Sans, sans-serif">0.4</text><text transform="translate(201.01,349.5) scale(1,1.035)" text-anchor="middle" font-size="17.3" font-family="Liberation Sans, sans-serif">0.6</text><text transform="translate(290.93,349.5) scale(1,1.035)" text-anchor="middle" font-size="17.3" font-family="Liberation Sans, sans-serif">0.8</text><path d="M378.1,340.2 L378.1,338.9 C379.4,338.7 380.3,337.9 380.6,336.7 L382,336.7 L382,349.4 L380.2,349.4 L380.2,340.2 Z"/><text transform="translate(186.2,376.7) scale(1,1.025)" font-size="19.8" font-family="Liberation Sans, sans-serif">s</text><text transform="translate(201.4,376.7) scale(1,1.025)" font-size="19.8" font-family="Liberation Sans, sans-serif">(</text><text transform="translate(207.6,376.7) scale(1,1.025)" font-size="19.8" font-family="Liberation Sans, sans-serif">G</text><text transform="translate(222.0,376.7) scale(1,1.025)" font-size="19.8" font-family="Liberation Sans, sans-serif">e</text><text transform="translate(233.7,376.7) scale(1,1.025)" font-size="19.8" font-family="Liberation Sans, sans-serif">V</text><text transform="translate(254.2,376.7) scale(1,1.025)" font-size="19.8" font-family="Liberation Sans, sans-serif">)</text><text x="246.5" y="366.75" font-size="14" font-family="Liberation Sans, sans-serif">2</text><g transform="translate(18.8,186.6) rotate(-90)"><rect x="1.85" y="-13.8" width="1.35" height="17.8" /><rect x="7.05" y="-13.8" width="1.85" height="13.8" /><rect x="7.05" y="-13.8" width="9.55" height="1.65" /><rect x="7.05" y="-7.5" width="8.55" height="1.65" /><text transform="translate(16.9,6.2) scale(0.9,1)" font-size="13.2" stroke="#000" stroke-width="0.3" font-family="Liberation Sans, sans-serif">π</text><rect x="26.95" y="-13.8" width="1.35" height="17.8" /><text x="29.9" y="-9.5" font-size="14" font-family="Liberation Sans, sans-serif">2</text></g></g>
</svg></body></html>
